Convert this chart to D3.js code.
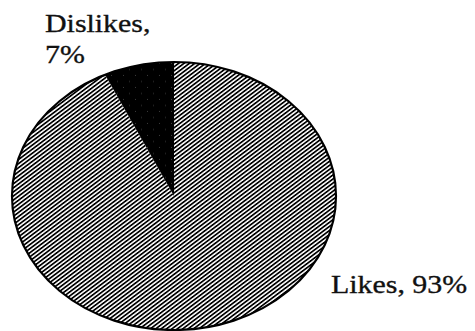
<!DOCTYPE html>
<html>
<head>
<meta charset="utf-8">
<script src="https://cdn.jsdelivr.net/npm/d3@7/dist/d3.min.js"></script>
<style>
  html, body { margin: 0; padding: 0; background: #fff; }
  svg { display: block; }
  text { font-family: "Liberation Serif", "DejaVu Serif", serif; fill: #111; stroke: #111; stroke-width: 0.35; }
</style>
</head>
<body>
<svg id="chart" width="475" height="331"></svg>
<script>
// Survey responses (percent)
const categories = ["Likes", "Dislikes"];
const values = [93, 7];
const labelLines = [["Likes, 93%"], ["Dislikes,", "7%"]];

const W = 475, H = 331;
const cx = 174, cy = 196, rx = 162, ry = 134;
const k = ry / rx; // vertical squash that turns the pie into an oval

const svg = d3.select("#chart");
const defs = svg.append("defs");

// Diagonal hatch for the large slice, counter-scaled so the stripes stay even on screen
const period = 3.25;
const hatch = defs.append("pattern")
  .attr("id", "hatch")
  .attr("patternUnits", "userSpaceOnUse")
  .attr("width", 10).attr("height", period)
  .attr("patternTransform", `scale(1,${1 / k}) rotate(-37)`);
hatch.append("rect").attr("width", 10).attr("height", period).attr("fill", "#fff");
hatch.append("rect").attr("width", 10).attr("height", 1.7).attr("fill", "#000");

// Solid black with faint speckles for the small slice
const dots = defs.append("pattern")
  .attr("id", "dots")
  .attr("patternUnits", "userSpaceOnUse")
  .attr("width", 12).attr("height", 12)
  .attr("patternTransform", `scale(1,${1 / k})`);
dots.append("rect").attr("width", 12).attr("height", 12).attr("fill", "#000");
dots.append("rect").attr("x", 3).attr("y", 5).attr("width", 1).attr("height", 1).attr("fill", "#3a3a3a");
dots.append("rect").attr("x", 9).attr("y", 11).attr("width", 1).attr("height", 1).attr("fill", "#3a3a3a");

const pie = d3.pie().sort(null).value(d => d)
  .startAngle(0).endAngle(2 * Math.PI);
const arc = d3.arc().innerRadius(0).outerRadius(rx);
const arcs = pie(values);

const fills = ["url(#hatch)", "url(#dots)"];

const g = svg.append("g")
  .attr("transform", `translate(${cx},${cy}) scale(1,${k})`);

g.selectAll("path.slice")
  .data(arcs)
  .join("path")
  .attr("class", "slice")
  .attr("d", arc)
  .attr("fill", (d, i) => fills[i]);

// Outer rim
g.append("path")
  .attr("d", d3.arc().innerRadius(0).outerRadius(rx)({ startAngle: 0, endAngle: 2 * Math.PI }))
  .attr("fill", "none")
  .attr("stroke", "#000")
  .attr("stroke-width", 2.2)
  .attr("vector-effect", "non-scaling-stroke");

// Labels (type is slightly widened to follow the oval)
const labelPos = [
  { x: 331, y: 293 },
  { x: 45, y: 32 }
];
const lineGap = 31;
const sx = 1.15;

categories.forEach((c, i) => {
  const p = labelPos[i];
  const t = svg.append("text")
    .attr("transform", `translate(${p.x},${p.y}) scale(${sx},1)`)
    .attr("font-size", 26);
  labelLines[i].forEach((ln, j) => {
    t.append("tspan").attr("x", 0).attr("y", j * lineGap).text(ln);
  });
});
</script>
</body>
</html>
